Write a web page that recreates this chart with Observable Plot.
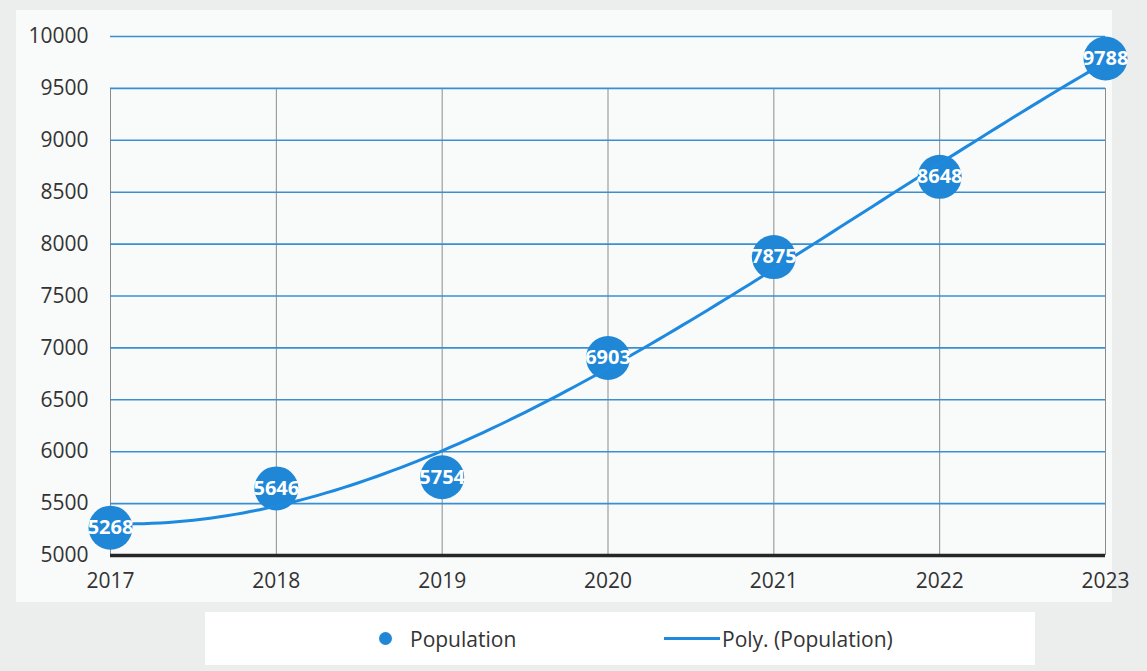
<!DOCTYPE html>
<html>
<head>
<meta charset="utf-8">
<script src="https://cdn.jsdelivr.net/npm/d3@7"></script>
<script src="https://cdn.jsdelivr.net/npm/@observablehq/plot@0.6"></script>
<style>
  html, body { margin: 0; padding: 0; background: #eceeee; }
  #wrap { position: relative; width: 1147px; height: 671px; overflow: hidden;
          font-family: "Open Sans", sans-serif; }
  #panel { position: absolute; left: 16px; top: 10px; width: 1096px; height: 592px; background: #f9fafa; }
  #chart { position: absolute; left: 0; top: 0; }
  #legend { position: absolute; left: 205px; top: 612px; width: 830px; height: 53px; background: #ffffff;
            font-size: 21px; color: #333; }
  .item { position: absolute; top: 0; height: 53px; display: flex; align-items: center; }
  .dot { width: 13px; height: 13px; border-radius: 50%; background: #1f87d6; margin-right: 18px; }
  .ln { width: 56px; height: 3px; background: #1d8ae0; margin-right: 2px; }
</style>
</head>
<body>
<div id="wrap">
  <div id="panel"></div>
  <div id="chart"></div>
  <div id="legend">
    <div class="item" style="left:174px"><span class="dot"></span><span>Population</span></div>
    <div class="item" style="left:459px"><span class="ln"></span><span>Poly. (Population)</span></div>
  </div>
</div>
<script>
// Yearly population
const years = [2017, 2018, 2019, 2020, 2021, 2022, 2023];
const population = [5268, 5646, 5754, 6903, 7875, 8648, 9788];
const yTicks = [5000, 5500, 6000, 6500, 7000, 7500, 8000, 8500, 9000, 9500, 10000];

const data = years.map((year, i) => ({year, value: population[i]}));

// Third-order least-squares polynomial trendline through the yearly values
function polyFit(xs, ys, degree) {
  const n = degree + 1;
  const A = Array.from({length: n}, () => new Array(n + 1).fill(0));
  for (let k = 0; k < xs.length; k++) {
    for (let i = 0; i < n; i++) {
      for (let j = 0; j < n; j++) A[i][j] += Math.pow(xs[k], i + j);
      A[i][n] += ys[k] * Math.pow(xs[k], i);
    }
  }
  for (let c = 0; c < n; c++) {
    let p = c;
    for (let r = c + 1; r < n; r++) if (Math.abs(A[r][c]) > Math.abs(A[p][c])) p = r;
    [A[c], A[p]] = [A[p], A[c]];
    for (let r = 0; r < n; r++) {
      if (r === c) continue;
      const f = A[r][c] / A[c][c];
      for (let j = c; j <= n; j++) A[r][j] -= f * A[c][j];
    }
  }
  return A.map((row, i) => row[n] / row[i]);
}
const t = years.map(y => y - years[0]);
const coef = polyFit(t, population, 3);
const trend = d3.range(0, 6.0001, 0.05).map(u => ({
  year: years[0] + u,
  value: coef.reduce((s, c, i) => s + c * Math.pow(u, i), 0)
}));

const chart = Plot.plot({
  width: 1147,
  height: 602,
  marginLeft: 110,
  marginRight: 42,
  marginTop: 36,
  marginBottom: 47,
  style: {fontFamily: "Open Sans, sans-serif", fontSize: "21px", color: "#333", background: "transparent", overflow: "visible"},
  x: {domain: [2017, 2023], ticks: years, tickFormat: d => String(d), tickSize: 0, tickPadding: 18, label: null},
  y: {domain: [5000, 10000], ticks: yTicks, tickFormat: d => String(d), tickSize: 0, tickPadding: 22, label: null},
  marks: [
    Plot.ruleX(years, {y1: 5000, y2: 9500, stroke: "#8c8c8c", strokeWidth: 1}),
    Plot.ruleY(yTicks.slice(1), {stroke: "#3a8fd2", strokeWidth: 1.6}),
    Plot.ruleY([5000], {stroke: "#262626", strokeWidth: 3.5}),
    Plot.dot(data, {x: "year", y: "value", r: 22, fill: "#1f87d6"}),
    Plot.line(trend, {x: "year", y: "value", stroke: "#1d8ae0", strokeWidth: 3}),
    Plot.text(data, {x: "year", y: "value", text: d => String(d.value), fill: "white",
                     fontWeight: "bold", fontSize: 20})
  ]
});
document.getElementById("chart").appendChild(chart);
</script>
</body>
</html>
